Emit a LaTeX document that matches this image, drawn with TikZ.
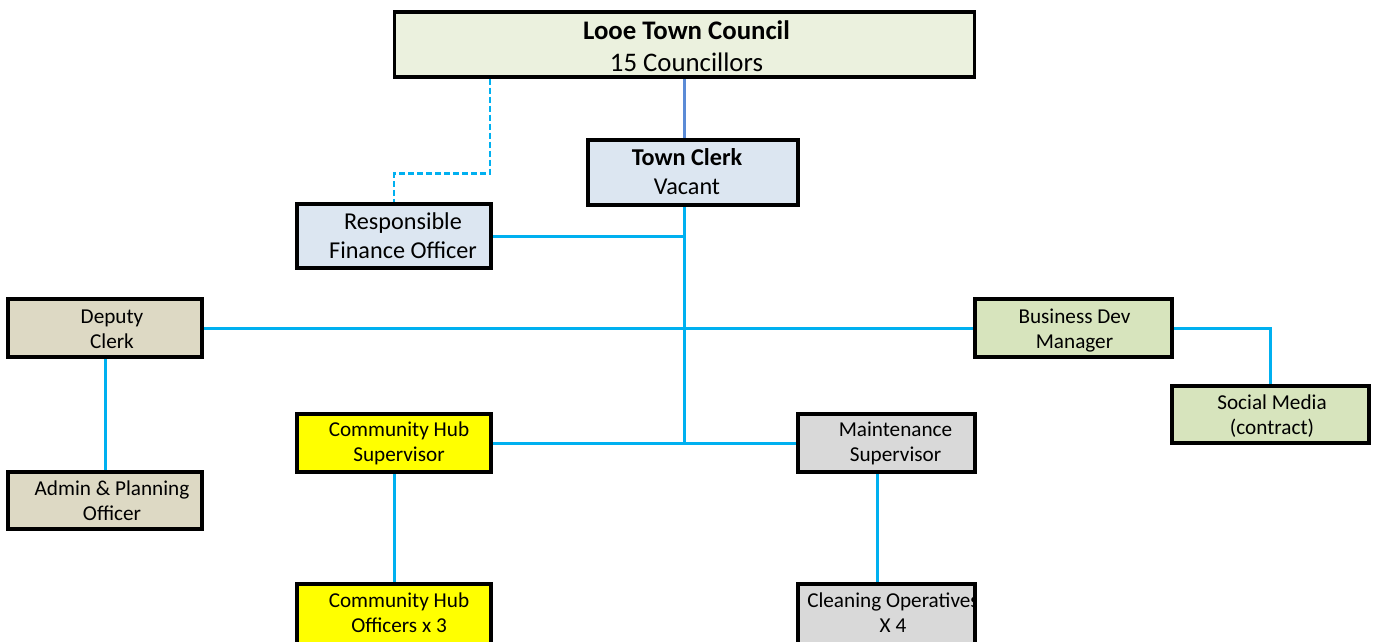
\documentclass[tikz,border=0pt]{standalone}
\usepackage{fontspec}
\setmainfont{Carlito}
\usetikzlibrary{calc,backgrounds}
\definecolor{cyanline}{HTML}{00B0F0}
\definecolor{blueline}{HTML}{5B8BD6}
\definecolor{councilfill}{HTML}{EBF1DE}
\definecolor{clerkfill}{HTML}{DCE6F1}
\definecolor{tanfill}{HTML}{DDD9C4}
\definecolor{greenfill}{HTML}{D7E4BD}
\definecolor{yellowfill}{HTML}{FFFF00}
\definecolor{grayfill}{HTML}{D9D9D9}
\tikzset{
  box/.style={draw=black, line width=3.4pt, inner sep=0pt, rectangle},
  conn/.style={draw=cyanline, line width=3pt},
  smalltxt/.style={align=center, font=\fontsize{21.2}{25}\selectfont},
  midtxt/.style={align=center, font=\fontsize{24.2}{29}\selectfont},
  bigtxt/.style={align=center, font=\fontsize{26.8}{32}\selectfont},
}
\begin{document}
\begin{tikzpicture}[x=1pt,y=-1pt]
\useasboundingbox (0,0) rectangle (1374,641);

\node[box, fill=councilfill, minimum width=580pt, minimum height=65pt,
  label={[bigtxt, xshift=2pt, yshift=-1.5pt]center:{\textbf{Looe Town Council}\\15 Councillors}}] (council) at (684.5,44.5) {};
\node[box, fill=clerkfill, minimum width=210pt, minimum height=65pt,
  label={[midtxt, xshift=-6pt, yshift=1pt]center:{\textbf{Town Clerk}\\Vacant}}] (clerk) at (693,172.5) {};
\node[box, fill=clerkfill, minimum width=194pt, minimum height=64pt,
  label={[midtxt, xshift=9pt]center:{Responsible\\Finance Officer}}] (rfo) at (394,236) {};
\node[box, fill=tanfill, minimum width=194pt, minimum height=58pt,
  label={[smalltxt, xshift=7pt, yshift=-1pt]center:{Deputy\\Clerk}}] (deputy) at (105,328) {};
\node[box, fill=tanfill, minimum width=194pt, minimum height=57pt,
  label={[smalltxt, xshift=7pt]center:{Admin \& Planning\\Officer}}] (admin) at (105,500.5) {};
\node[box, fill=greenfill, minimum width=197pt, minimum height=58pt,
  label={[smalltxt, xshift=1pt, yshift=-3pt]center:{Business Dev\\Manager}}] (bdm) at (1073.5,328) {};
\node[box, fill=greenfill, minimum width=197pt, minimum height=57pt,
  label={[smalltxt, xshift=1.5pt, yshift=-1.5pt]center:{Social Media\\(contract)}}] (social) at (1270.5,414.5) {};
\node[box, fill=yellowfill, minimum width=194pt, minimum height=58pt,
  label={[smalltxt, xshift=5pt]center:{Community Hub\\Supervisor}}] (chs) at (394,443) {};
\node[box, fill=grayfill, minimum width=177pt, minimum height=58pt,
  label={[smalltxt, xshift=9pt]center:{Maintenance\\Supervisor}}] (maint) at (886.5,443) {};
\node[box, fill=yellowfill, minimum width=194pt, minimum height=80pt] (cho) at (394,624) {};
\node[smalltxt] (choT) at (399,613) {Community Hub\\Officers x 3};
\node[box, fill=grayfill, minimum width=177pt, minimum height=80pt] (clean) at (886.5,624) {};
\begin{scope}
  \clip ($(clean.north west)+(1.7,1.7)$) rectangle ($(clean.south east)+(-1.7,0)$);
  \node[smalltxt] (cleanT) at (893,613) {Cleaning Operatives\\X 4};
\end{scope}

\begin{scope}[on background layer]
  \coordinate (tk) at (clerk.south -| council.south);
  \coordinate (mt) at ($(maint.south)+(-9.5,0)$);
  \draw[draw=blueline, line width=2.2pt] (council.south) -- (council.south |- clerk.north);
  \draw[conn] (tk) -- (tk |- chs.east);
  \draw[conn] (rfo.east) -- (rfo.east -| tk);
  \draw[conn] (deputy.east) -- (bdm.west);
  \draw[conn] (chs.east) -- (maint.west);
  \draw[conn] (deputy.south) -- (admin.north);
  \draw[conn] (bdm.east) -| (social.north);
  \draw[conn] (chs.south) -- (cho.north);
  \draw[conn] (mt) -- (mt |- clean.north);
  \draw[conn, line width=2.6pt, dash pattern=on 6pt off 3pt]
    ($(council.south west)+(97,0)$) -- ++(0,95) -| (rfo.north);
\end{scope}
\end{tikzpicture}
\end{document}
